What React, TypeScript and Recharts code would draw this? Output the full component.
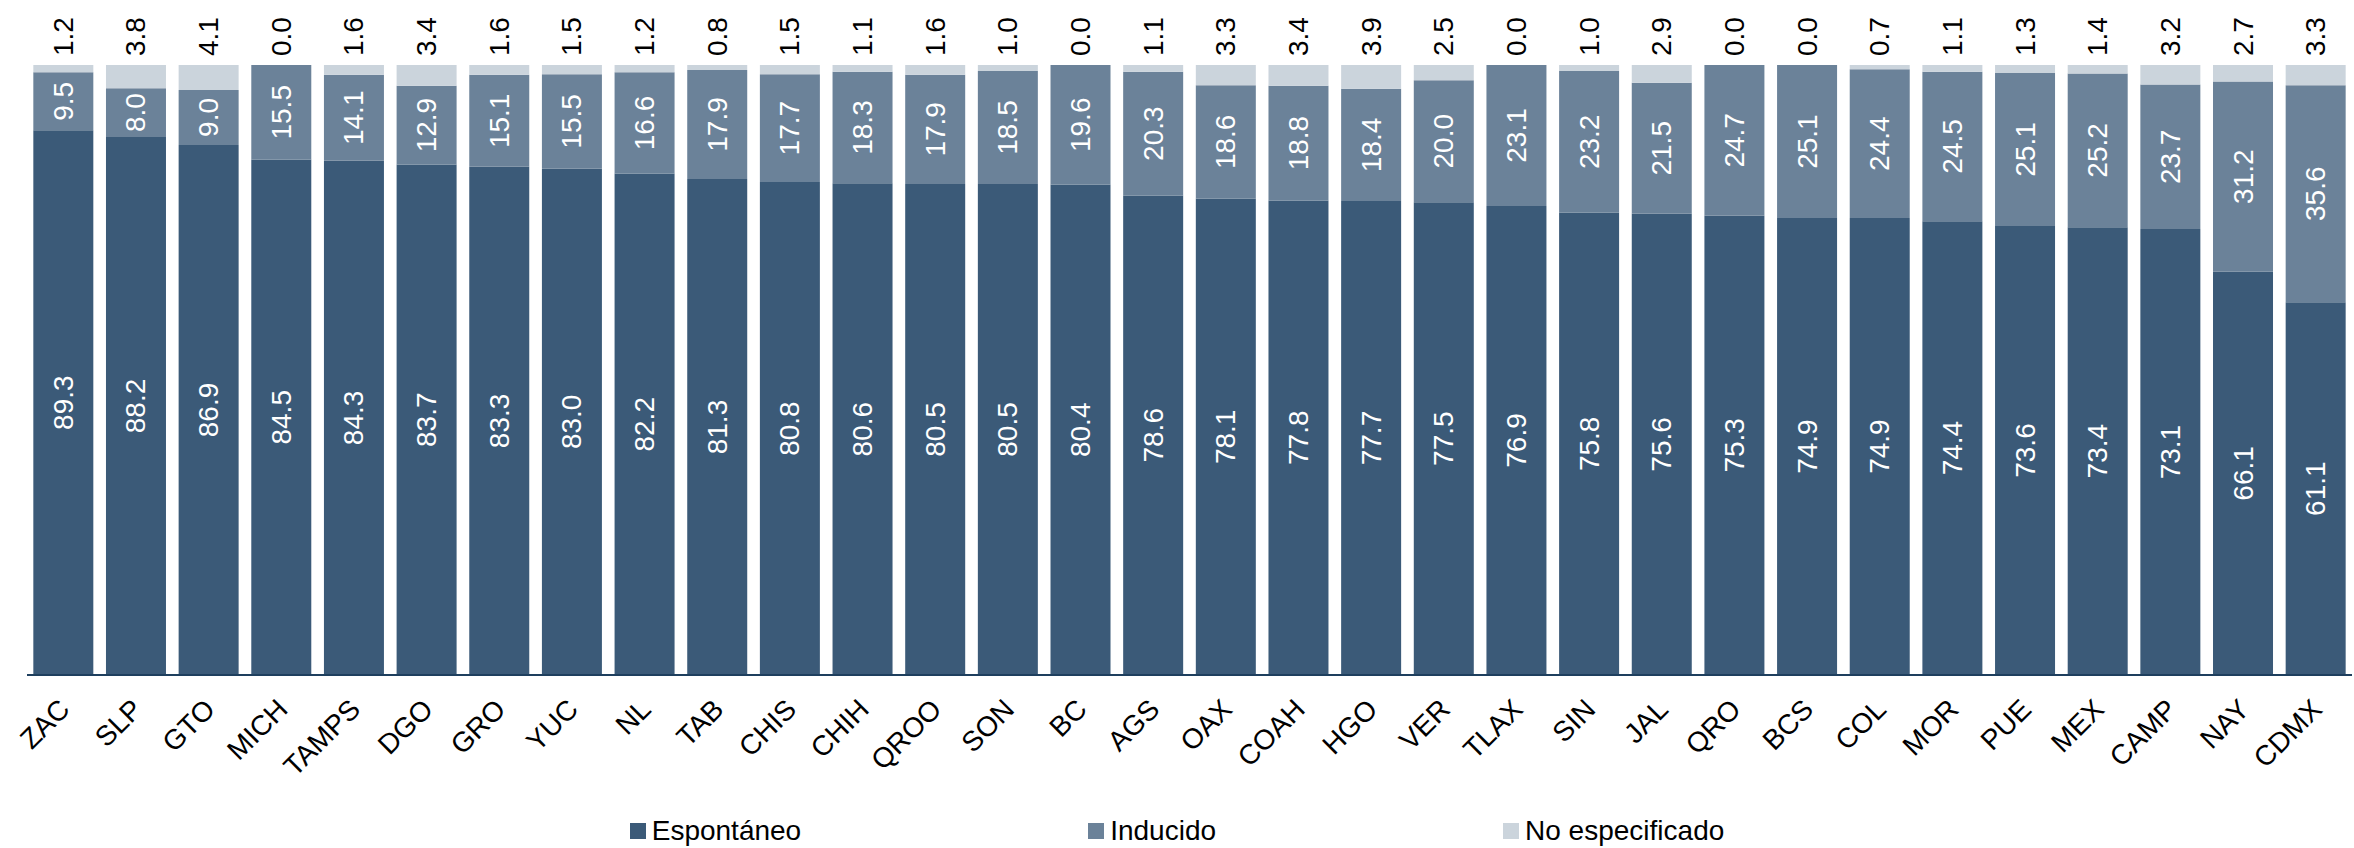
import React from "react";
import { BarChart, Bar, XAxis, YAxis, Legend, LabelList } from "recharts";

const states = [
  "ZAC", "SLP", "GTO", "MICH", "TAMPS", "DGO", "GRO", "YUC", "NL", "TAB", "CHIS",
  "CHIH", "QROO", "SON", "BC", "AGS", "OAX", "COAH", "HGO", "VER", "TLAX", "SIN",
  "JAL", "QRO", "BCS", "COL", "MOR", "PUE", "MEX", "CAMP", "NAY", "CDMX",
];

const espontaneo = [
  89.3, 88.2, 86.9, 84.5, 84.3, 83.7, 83.3, 83.0, 82.2, 81.3, 80.8, 80.6, 80.5, 80.5,
  80.4, 78.6, 78.1, 77.8, 77.7, 77.5, 76.9, 75.8, 75.6, 75.3, 74.9, 74.9, 74.4, 73.6,
  73.4, 73.1, 66.1, 61.1,
];

const inducido = [
  9.5, 8.0, 9.0, 15.5, 14.1, 12.9, 15.1, 15.5, 16.6, 17.9, 17.7, 18.3, 17.9, 18.5,
  19.6, 20.3, 18.6, 18.8, 18.4, 20.0, 23.1, 23.2, 21.5, 24.7, 25.1, 24.4, 24.5, 25.1,
  25.2, 23.7, 31.2, 35.6,
];

const noEspecificado = [
  1.2, 3.8, 4.1, 0.0, 1.6, 3.4, 1.6, 1.5, 1.2, 0.8, 1.5, 1.1, 1.6, 1.0, 0.0, 1.1,
  3.3, 3.4, 3.9, 2.5, 0.0, 1.0, 2.9, 0.0, 0.0, 0.7, 1.1, 1.3, 1.4, 3.2, 2.7, 3.3,
];

const data = states.map((s, i) => ({
  state: s,
  esp: espontaneo[i],
  ind: inducido[i],
  ne: noEspecificado[i],
}));

const FONT = "'Liberation Sans', Arial, sans-serif";
const DARK = "#3B5A78";
const MID = "#6B8299";
const LIGHT = "#CBD4DC";

// label centred inside a segment, rotated
const InsideLabel = (props: any) => {
  const { x, y, width, height, value } = props;
  const cx = x + width / 2;
  const cy = y + height / 2;
  return (
    <text
      x={cx}
      y={cy}
      transform={`rotate(-90, ${cx}, ${cy})`}
      textAnchor="middle"
      dominantBaseline="central"
      fill="#fff"
      fontSize={28}
      fontFamily={FONT}
    >
      {Number(value).toFixed(1)}
    </text>
  );
};

// "No especificado" value above the stack. Hung off the Inducido segment so
// that zero-height segments still get their label; the segment's own
// px-per-unit ratio gives the height of the light segment on top.
const TopLabel = (props: any) => {
  const { x, y, width, height, index } = props;
  const ne = noEspecificado[index] ?? 0;
  const ind = inducido[index] || 1;
  const neHeight = Math.abs(height) * (ne / ind);
  const cx = x + width / 2;
  const cy = y - neHeight - 9;
  return (
    <text
      x={cx}
      y={cy}
      transform={`rotate(-90, ${cx}, ${cy})`}
      textAnchor="start"
      dominantBaseline="central"
      fill="#000"
      fontSize={28}
      fontFamily={FONT}
    >
      {ne.toFixed(1)}
    </text>
  );
};

const StateTick = (props: any) => {
  const { x, y, payload } = props;
  const tx = x + 8;
  const ty = y + 34;
  return (
    <text
      x={tx}
      y={ty}
      transform={`rotate(-45, ${tx}, ${ty})`}
      textAnchor="end"
      fill="#000"
      fontSize={28}
      fontFamily={FONT}
    >
      {payload.value}
    </text>
  );
};

const LegendContent = (props: any) => {
  const { payload = [] } = props;
  return (
    <div
      style={{
        display: "flex",
        justifyContent: "center",
        gap: 287,
        fontFamily: FONT,
        fontSize: 28,
        lineHeight: "32px",
        color: "#000",
      }}
    >
      {payload.map((p: any) => (
        <div key={p.value} style={{ display: "flex", alignItems: "center" }}>
          <span
            style={{
              display: "inline-block",
              width: 16,
              height: 16,
              background: p.color,
              marginRight: 6,
            }}
          />
          <span>{p.value}</span>
        </div>
      ))}
    </div>
  );
};

export default function App() {
  return (
    <div style={{ position: "absolute", left: 0, top: 0, width: 2354, height: 848, background: "#fff" }}>
      <BarChart
        width={2354}
        height={848}
        data={data}
        margin={{ top: 65, right: 2, left: 27, bottom: 0 }}
        barCategoryGap="8.7%"
      >
        <XAxis
          dataKey="state"
          height={173}
          interval={0}
          tickLine={false}
          tickSize={0}
          axisLine={{ stroke: "#1E3F5E", strokeWidth: 2 }}
          tick={<StateTick />}
        />
        <YAxis hide domain={[0, 100]} />
        <Legend
          layout="horizontal"
          verticalAlign="middle"
          align="center"
          content={<LegendContent />}
          wrapperStyle={{ top: 815, left: 0, width: 2354 }}
        />
        <Bar dataKey="esp" name="Espontáneo" stackId="a" fill={DARK} isAnimationActive={false}>
          <LabelList dataKey="esp" content={<InsideLabel />} />
        </Bar>
        <Bar dataKey="ind" name="Inducido" stackId="a" fill={MID} isAnimationActive={false}>
          <LabelList dataKey="ind" content={<InsideLabel />} />
          <LabelList dataKey="ne" content={<TopLabel />} />
        </Bar>
        <Bar dataKey="ne" name="No especificado" stackId="a" fill={LIGHT} isAnimationActive={false} />
      </BarChart>
    </div>
  );
}
